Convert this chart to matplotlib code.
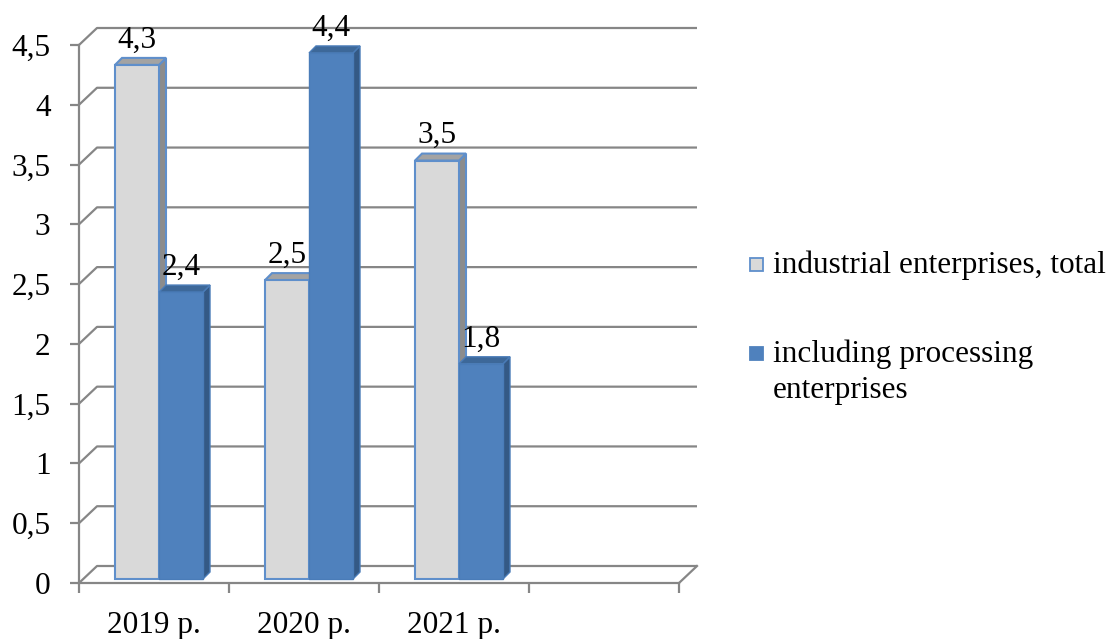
import matplotlib
matplotlib.use("Agg")
import matplotlib.pyplot as plt
from matplotlib.patches import Rectangle, Polygon

plt.rcParams["font.family"] = ["Liberation Serif", "DejaVu Serif"]

# chart data
years = ["2019 р.", "2020 р.", "2021 р."]
series_names = ["industrial enterprises, total", "including processing\nenterprises"]
total = [4.3, 2.5, 3.5]
processing = [2.4, 4.4, 1.8]
y_ticks = [0, 0.5, 1, 1.5, 2, 2.5, 3, 3.5, 4, 4.5]
n_slots = 4

W, H = 1114, 639
FS = 22.5
GRID = "#868686"

fig = plt.figure(figsize=(W / 100, H / 100), dpi=100)
ax = fig.add_axes([79 / W, (H - 583) / H, 600 / W, 538 / H])
ax.set_xlim(0, n_slots)
ax.set_ylim(0, 4.5)

# pseudo-3d offsets in data units
px_x = 600 / n_slots
px_y = 538 / 4.5
floor_dx, floor_dy = 18 / px_x, 17 / px_y
shift_x, shift_y = 5 / px_x, 4 / px_y
depth_dx, depth_dy = 7 / px_x, 7 / px_y
bar_w = 44 / px_x

# back wall gridlines and floor
for v in y_ticks:
    ax.plot([0, floor_dx, n_slots + floor_dx], [v, v + floor_dy, v + floor_dy],
            color=GRID, lw=1.6, clip_on=False, zorder=1, solid_capstyle="butt")
ax.plot([n_slots, n_slots + floor_dx], [0, floor_dy], color=GRID, lw=1.6,
        clip_on=False, zorder=1)


def draw_bar(x0, h, face, top, side, edge, lw):
    by = shift_y
    ax.add_patch(Polygon([(x0 + bar_w, by), (x0 + bar_w + depth_dx, by + depth_dy),
                          (x0 + bar_w + depth_dx, by + h + depth_dy), (x0 + bar_w, by + h)],
                         facecolor=side, edgecolor=edge, lw=lw, zorder=3, clip_on=False))
    ax.add_patch(Polygon([(x0, by + h), (x0 + bar_w, by + h),
                          (x0 + bar_w + depth_dx, by + h + depth_dy), (x0 + depth_dx, by + h + depth_dy)],
                         facecolor=top, edgecolor=edge, lw=lw, zorder=3, clip_on=False))
    ax.add_patch(Rectangle((x0, by), bar_w, h, facecolor=face, edgecolor=edge,
                           lw=lw, zorder=3, clip_on=False))


def label(x, h):
    ax.annotate(f"{h:g}".replace(".", ","), xy=(x, h + shift_y), xytext=(0, 12.5),
                textcoords="offset points", ha="center", va="baseline",
                fontsize=FS, annotation_clip=False, zorder=5)


for i, (t, p) in enumerate(zip(total, processing)):
    c = i + 0.5 + shift_x
    draw_bar(c - bar_w, t, "#D9D9D9", "#A3A3A3", "#8C8C8C", "#5F8FCB", 1.5)
    draw_bar(c, p, "#4F81BD", "#3D6899", "#345985", "#4A7CB8", 1.0)
    label(c - bar_w / 2, t)
    label(c + bar_w / 2, p)

# axes styling
for s in ["top", "right"]:
    ax.spines[s].set_visible(False)
for s in ["left", "bottom"]:
    ax.spines[s].set_color(GRID)
    ax.spines[s].set_linewidth(1.6)
    ax.spines[s].set_zorder(2)

ax.set_yticks(y_ticks)
ax.set_yticklabels([f"{v:g}".replace(".", ",") for v in y_ticks])
ax.tick_params(axis="y", length=6.5, width=1.6, color=GRID, pad=14, labelsize=FS)
ax.set_xticks(range(n_slots + 1))
ax.set_xticklabels([])
ax.tick_params(axis="x", which="major", length=7.2, width=1.6, color=GRID)
ax.set_xticks([i + 0.5 for i in range(len(years))], minor=True)
ax.set_xticklabels(years, minor=True)
ax.tick_params(axis="x", which="minor", length=0, pad=20, labelsize=FS)
ax.patch.set_alpha(0)

# legend drawn by hand to keep marker on first line
legend_faces = [("#D9D9D9", "#5F8FCB"), ("#4F81BD", "#4F81BD")]
row_base = [273, 362]
for name, (fc, ec), base in zip(series_names, legend_faces, row_base):
    fig.add_artist(Rectangle((750 / W, (H - base + 2) / H), 13 / W, 13 / H,
                             facecolor=fc, edgecolor=ec, lw=1.3, transform=fig.transFigure))
    for k, line in enumerate(name.split("\n")):
        fig.text(773 / W, (H - base - 36 * k) / H, line, fontsize=FS,
                 ha="left", va="baseline")

fig.savefig("out.png", dpi=100)
